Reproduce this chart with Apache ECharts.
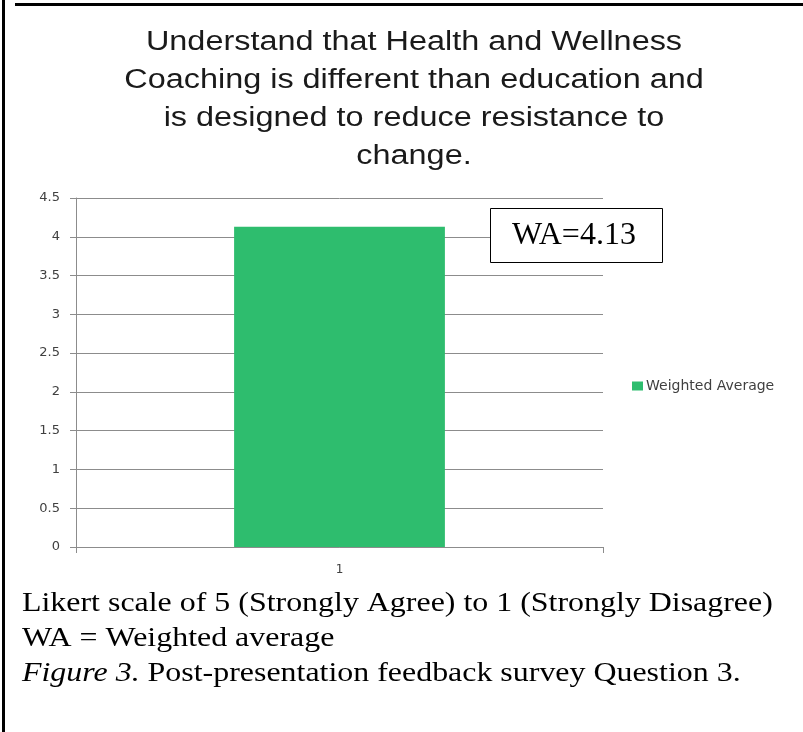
<!DOCTYPE html>
<html>
<head>
<meta charset="utf-8">
<script src="https://cdn.jsdelivr.net/npm/echarts@6/dist/echarts.min.js"></script>
<style>
  html, body { margin: 0; padding: 0; background: #fff; }
  #chart { width: 803px; height: 732px; }
</style>
</head>
<body>
<div id="chart"></div>
<script>
const titleLines = [
  'Understand that Health and Wellness',
  'Coaching is different than education and',
  'is designed to reduce resistance to',
  'change.'
]
const categories = ['1']
const seriesName = 'Weighted Average'
const values = [4.13]
const yTicks = { min: 0, max: 4.5, interval: 0.5 }
const boxText = 'WA=4.13'
const captionLines = [
  'Likert scale of 5 (Strongly Agree) to 1 (Strongly Disagree)',
  'WA = Weighted average'
]
const figureLabel = 'Figure 3.'
const figureText = ' Post-presentation feedback survey Question 3.'

const chart = echarts.init(document.getElementById('chart'))

// the source picture is a bit stretched sideways, so text gets a scaleX
const titleTexts = titleLines.map((t, i) => ({
  type: 'text',
  x: 414, y: 43 + i * 38,
  scaleX: 1.2,
  style: {
    text: t,
    fontFamily: 'Liberation Sans',
    fontSize: 27,
    fill: '#1a1a1a',
    align: 'center',
    verticalAlign: 'middle'
  }
}))

const captionTexts = captionLines.map((t, i) => ({
  type: 'text',
  x: 22, y: 604 + i * 35,
  scaleX: 1.14,
  style: {
    text: t,
    fontFamily: 'Liberation Serif',
    fontSize: 28,
    fill: '#000',
    verticalAlign: 'middle'
  }
}))

const option = {
  animation: false,
  backgroundColor: '#fff',
  legend: {
    left: 632,
    top: 379,
    padding: 0,
    icon: 'rect',
    itemWidth: 11,
    itemHeight: 9,
    itemGap: 4,
    textStyle: { fontFamily: 'DejaVu Sans', fontSize: 14, color: '#404040', padding: [0, 0, 0, -2] },
    data: [seriesName]
  },
  grid: { left: 76, right: 200, top: 198, bottom: 185 },
  xAxis: {
    type: 'category',
    data: categories,
    axisLine: { lineStyle: { color: '#8c8c8c', width: 1 } },
    axisTick: { show: true, length: 6, lineStyle: { color: '#8c8c8c' } },
    axisLabel: { fontFamily: 'DejaVu Sans', fontSize: 12, color: '#404040', margin: 17 }
  },
  yAxis: {
    type: 'value',
    min: yTicks.min,
    max: yTicks.max,
    interval: yTicks.interval,
    axisLine: { show: true, lineStyle: { color: '#8c8c8c', width: 1 } },
    axisTick: { show: true, length: 6, lineStyle: { color: '#8c8c8c' } },
    axisLabel: { fontFamily: 'DejaVu Sans', fontSize: 13, color: '#404040', margin: 16 },
    splitLine: { lineStyle: { color: '#8c8c8c', width: 1 } }
  },
  series: [{
    name: seriesName,
    type: 'bar',
    data: values,
    barWidth: '40%',
    itemStyle: { color: '#2ebd6e' }
  }],
  graphic: [
    { type: 'rect', shape: { x: 2, y: 0, width: 3, height: 732 }, style: { fill: '#000' } },
    { type: 'rect', shape: { x: 15, y: 3, width: 788, height: 3 }, style: { fill: '#000' } },
    {
      type: 'rect',
      shape: { x: 490.5, y: 208.5, width: 172, height: 54 },
      style: { fill: '#fff', stroke: '#000', lineWidth: 1 },
      z: 10
    },
    {
      type: 'text',
      x: 574, y: 236,
      z: 11,
      style: {
        text: boxText,
        fontFamily: 'Liberation Serif',
        fontSize: 32,
        fill: '#000',
        align: 'center',
        verticalAlign: 'middle'
      }
    },
    ...titleTexts,
    ...captionTexts,
    {
      type: 'text',
      x: 22, y: 674,
      scaleX: 1.14,
      style: {
        text: '{i|' + figureLabel + '}' + figureText,
        fontFamily: 'Liberation Serif',
        fontSize: 28,
        fill: '#000',
        verticalAlign: 'middle',
        rich: { i: { fontFamily: 'Liberation Serif', fontStyle: 'italic', fontSize: 28, fill: '#000' } }
      }
    }
  ]
}

chart.setOption(option)
</script>
</body>
</html>
